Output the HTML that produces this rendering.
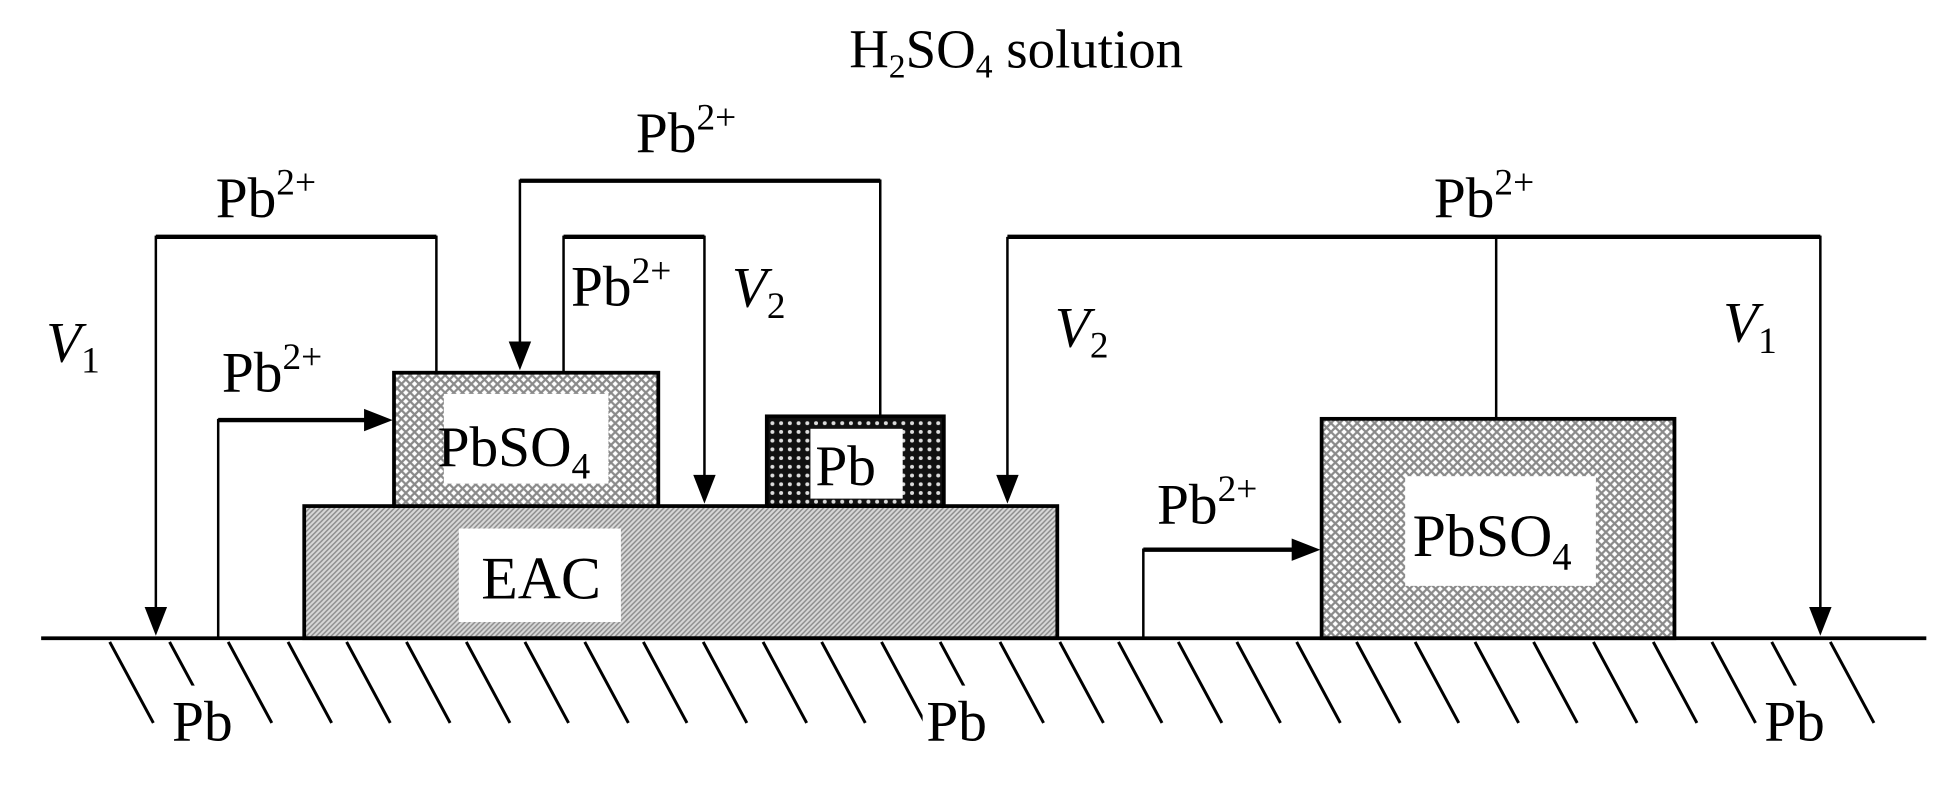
<!DOCTYPE html>
<html><head><meta charset="utf-8"><style>
html,body{margin:0;padding:0;background:#fff}
svg{display:block}
text{font-family:"Liberation Serif",serif;fill:#000}
</style></head><body>
<svg width="1955" height="804" viewBox="0 0 1568 645" preserveAspectRatio="none" xmlns="http://www.w3.org/2000/svg">
<defs>
<pattern id="cross" width="7" height="7" patternUnits="userSpaceOnUse">
<rect width="7" height="7" fill="#fff"/>
<path d="M0 0L7 7M7 0L0 7" stroke="#8a8a8a" stroke-width="1.8"/>
</pattern>
<pattern id="diag" width="4" height="4" patternUnits="userSpaceOnUse">
<rect width="4" height="4" fill="#d8d8d8"/>
<path d="M0 4L4 0M-1 1L1 -1M3 5L5 3" stroke="#8c8c8c" stroke-width="1.2"/>
</pattern>
<pattern id="dark" width="7" height="7" patternUnits="userSpaceOnUse">
<rect width="7" height="7" fill="#111"/>
<circle cx="3.5" cy="3.5" r="1.6" fill="#ddd"/>
</pattern>
</defs>

<text x="815" y="54" font-size="44" text-anchor="middle">H<tspan font-size="27" dy="8">2</tspan><tspan dy="-8">SO</tspan><tspan font-size="27" dy="8">4</tspan><tspan dy="-8"> solution</tspan></text>

<!-- ground hatch -->
<g stroke="#000" stroke-width="2.4">
<path d="M88 515l35 65M136 515l35 65M183 515l35 65M231 515l35 65M278 515l35 65M326 515l35 65M374 515l35 65M421 515l35 65M469 515l35 65M516 515l35 65M564 515l35 65M612 515l35 65M659 515l35 65M707 515l35 65M754 515l35 65M802 515l35 65M850 515l35 65M897 515l35 65M945 515l35 65M992 515l35 65M1040 515l35 65M1088 515l35 65M1135 515l35 65M1183 515l35 65M1230 515l35 65M1278 515l35 65M1326 515l35 65M1373 515l35 65M1421 515l35 65M1468 515l35 65"/>
</g>
<rect x="136" y="550" width="62" height="52" fill="#fff"/>
<rect x="740" y="550" width="62" height="52" fill="#fff"/>
<rect x="1412" y="550" width="62" height="52" fill="#fff"/>
<text x="138" y="594" font-size="46">Pb</text>
<text x="743" y="594" font-size="46">Pb</text>
<text x="1415" y="594" font-size="46">Pb</text>

<!-- boxes -->
<rect x="244" y="406" width="604" height="106" fill="url(#diag)" stroke="#000" stroke-width="3"/>
<rect x="368" y="424" width="130" height="75" fill="#fff"/>
<text x="434" y="480" font-size="48" text-anchor="middle">EAC</text>

<rect x="316" y="299" width="212" height="107" fill="url(#cross)" stroke="#000" stroke-width="3"/>
<rect x="356" y="316" width="132" height="72" fill="#fff"/>
<text x="351" y="374" font-size="46">PbSO<tspan font-size="30" dy="10">4</tspan></text>

<rect x="615" y="334" width="142" height="72" fill="url(#dark)" stroke="#000" stroke-width="3"/>
<rect x="650" y="344" width="74" height="56" fill="#fff"/>
<text x="654" y="389" font-size="46">Pb</text>

<rect x="1060" y="336" width="283" height="176" fill="url(#cross)" stroke="#000" stroke-width="3"/>
<rect x="1127" y="382" width="153" height="88" fill="#fff"/>
<text x="1133" y="446" font-size="48">PbSO<tspan font-size="31" dy="11">4</tspan></text>

<!-- ground line -->
<line x1="33" y1="512" x2="1545" y2="512" stroke="#000" stroke-width="3"/>

<!-- connectors -->
<g fill="none" stroke="#000" stroke-width="2">
<path d="M350 299V190H125V495"/>
<path d="M175 512V337H300"/>
<path d="M452 299V190H565V388"/>
<path d="M706 334V145H417V281"/>
<path d="M1200 336V190M808 190H1460V495M808 190V388"/>
<path d="M917 512V441H1043"/>
</g>
<g stroke="#000" stroke-width="3.5">
<line x1="125" y1="190" x2="350" y2="190"/>
<line x1="417" y1="145" x2="706" y2="145"/>
<line x1="452" y1="190" x2="565" y2="190"/>
<line x1="808" y1="190" x2="1460" y2="190"/>
<line x1="175" y1="337" x2="300" y2="337"/>
<line x1="917" y1="441" x2="1043" y2="441"/>
</g>
<g fill="#000">
<polygon points="116,487 134,487 125,510"/>
<polygon points="1451,487 1469,487 1460,510"/>
<polygon points="556,381 574,381 565,404"/>
<polygon points="799,381 817,381 808,404"/>
<polygon points="408,274 426,274 417,297"/>
<polygon points="292,328 292,346 315,337"/>
<polygon points="1036,432 1036,450 1059,441"/>
</g>

<!-- labels -->
<g font-size="46">
<text x="173" y="174">Pb<tspan font-size="30" dy="-18">2+</tspan></text>
<text x="510" y="122">Pb<tspan font-size="30" dy="-18">2+</tspan></text>
<text x="1150" y="174">Pb<tspan font-size="30" dy="-18">2+</tspan></text>
<text x="178" y="314">Pb<tspan font-size="30" dy="-18">2+</tspan></text>
<text x="458" y="245">Pb<tspan font-size="30" dy="-18">2+</tspan></text>
<text x="928" y="420">Pb<tspan font-size="30" dy="-18">2+</tspan></text>
<text x="37" y="290" font-style="italic">V<tspan font-style="normal" font-size="30" dy="9">1</tspan></text>
<text x="587" y="246" font-style="italic">V<tspan font-style="normal" font-size="30" dy="9">2</tspan></text>
<text x="846" y="278" font-style="italic">V<tspan font-style="normal" font-size="30" dy="9">2</tspan></text>
<text x="1382" y="274" font-style="italic">V<tspan font-style="normal" font-size="30" dy="9">1</tspan></text>
</g>
</svg>
</body></html>
